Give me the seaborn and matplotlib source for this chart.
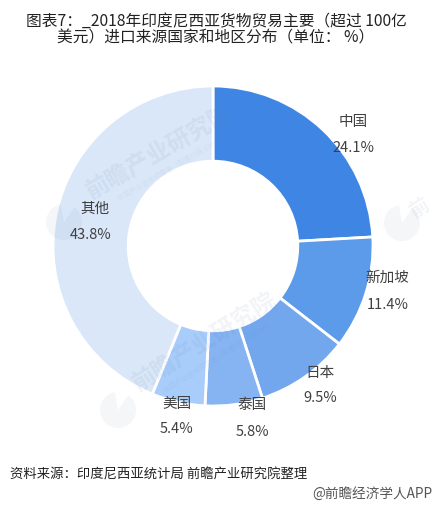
import matplotlib.pyplot as plt
from matplotlib.patches import Wedge
import seaborn as sns


OUTPUT_PATH = "out.png"
WIDTH, HEIGHT = 432, 505

CATEGORIES = ["中国", "新加坡", "日本", "泰国", "美国", "其他"]
SHARES = [24.1, 11.4, 9.5, 5.8, 5.4, 43.8]
COLORS = ["#3f86e4", "#5c9aea", "#72a7ee", "#86b3f2", "#a8cdfb", "#d9e7f9"]

TITLE_LINES = ["图表7：_2018年印度尼西亚货物贸易主要（超过 100亿", "美元）进口来源国家和地区分布（单位： %）"]
SOURCE = "资料来源：印度尼西亚统计局 前瞻产业研究院整理"
CREDIT = "@前瞻经济学人APP"
WATERMARK = "前瞻产业研究院"
WATERMARK_SUB = "中国产业咨询领导者（股票代码 839599）"
MARK_COLOR = "#5a6e96"


def px(fig, x, y, text, **kwargs):
    # pixel coordinates measured from the top left corner
    return fig.text(x / WIDTH, 1 - y / HEIGHT, text, ha="center", va="center", **kwargs)


def main() -> None:
    sns.set_theme(style="white")
    plt.rcParams["font.family"] = ["Noto Sans CJK SC", "DejaVu Sans"]

    fig = plt.figure(figsize=(WIDTH / 100, HEIGHT / 100), dpi=100, facecolor="white")
    ax = fig.add_axes([53 / WIDTH, (HEIGHT - 406) / HEIGHT, 320 / WIDTH, 320 / HEIGHT])
    ax.pie(
        SHARES,
        colors=COLORS,
        startangle=90,
        counterclock=False,
        radius=1.0,
        wedgeprops={"width": 0.47, "edgecolor": "white", "linewidth": 2},
    )
    ax.set_xlim(-1, 1)
    ax.set_ylim(-1, 1)

    # overlay in pixels for the watermark logos
    overlay = fig.add_axes([0, 0, 1, 1], facecolor="none")
    overlay.set_xlim(0, WIDTH)
    overlay.set_ylim(HEIGHT, 0)
    overlay.axis("off")
    for x, y in [(64, 222), (118, 410), (402, 223)]:
        overlay.add_patch(Wedge((x, y), 18, -55, 260, color=MARK_COLOR, alpha=0.06, lw=0))

    for x, y, angle in [(160, 152, 30), (205, 342, 32)]:
        px(fig, x, y, WATERMARK, fontsize=17, color=MARK_COLOR, alpha=0.08,
           rotation=angle, fontweight="bold")
        px(fig, x + 14, y + 15, WATERMARK_SUB, fontsize=5, color=MARK_COLOR, alpha=0.08,
           rotation=angle)
    px(fig, 419, 208, "前", fontsize=14, color=MARK_COLOR, alpha=0.08,
       rotation=32, fontweight="bold")

    label_pos = [(353, 122), (387, 278), (320, 373), (252, 405), (177, 404), (95, 209)]
    value_pos = [(353, 148), (388, 305), (320, 398), (252, 432), (177, 429), (91, 235)]
    for name, share, lp, vp in zip(CATEGORIES, SHARES, label_pos, value_pos):
        px(fig, *lp, name, fontsize=10.5, color="#404040")
        px(fig, *vp, f"{share}%", fontsize=10.5, color="#404040")

    px(fig, 216, 21, TITLE_LINES[0], fontsize=11.3, color="#222222")
    px(fig, 216, 38, TITLE_LINES[1], fontsize=11.3, color="#222222")
    px(fig, 159, 474, SOURCE, fontsize=9.6, color="#222222")
    px(fig, 372, 494, CREDIT, fontsize=9.8, color="#555555")

    fig.savefig(OUTPUT_PATH, dpi=100)


if __name__ == "__main__":
    main()
